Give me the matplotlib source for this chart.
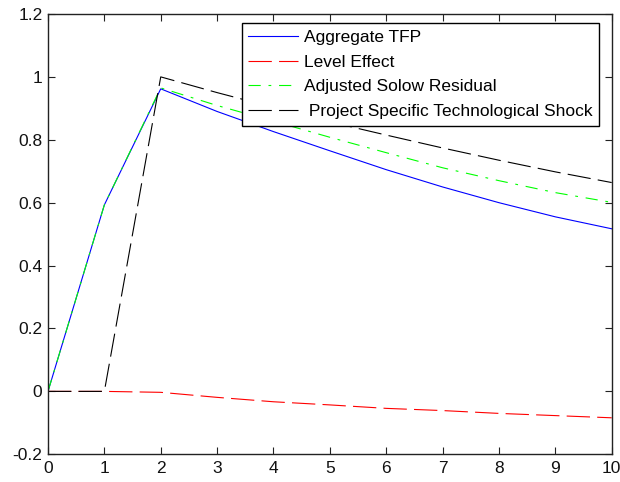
import matplotlib
matplotlib.use("Agg")
import matplotlib.pyplot as plt

# periods after the shock
periods = [0, 1, 2, 3, 4, 5, 6, 7, 8, 9, 10]

# values
aggregate_tfp = [0.0, 0.593, 0.962, 0.890, 0.826, 0.765, 0.705, 0.650, 0.600, 0.555, 0.517]
level_effect = [0.0, 0.0, -0.003, -0.019, -0.033, -0.043, -0.054, -0.061, -0.070, -0.077, -0.084]
solow_residual = [0.0, 0.593, 0.965, 0.909, 0.859, 0.808, 0.759, 0.711, 0.670, 0.632, 0.601]
project_shock = [0.0, 0.0, 1.0, 0.950, 0.903, 0.857, 0.815, 0.774, 0.735, 0.698, 0.664]

labels = ["Aggregate TFP", "Level Effect", "Adjusted Solow Residual",
          " Project Specific Technological Shock"]

plt.rcParams["font.family"] = ["Liberation Sans", "DejaVu Sans"]
plt.rcParams["font.size"] = 12.5

fig = plt.figure(figsize=(6.2, 4.82), dpi=100)
ax = fig.add_axes([0.0774, 0.0575, 0.9092, 0.9135])

lw = 0.8
ax.plot(periods, aggregate_tfp, color="#0000ff", lw=lw, label=labels[0])
ax.plot(periods, level_effect, color="#ff0000", lw=lw, dashes=(21, 6.5), label=labels[1])
ax.plot(periods, solow_residual, color="#00ff00", lw=lw, dashes=(11, 7, 2.5, 7), label=labels[2])
ax.plot(periods, project_shock, color="black", lw=lw, dashes=(21, 6.5), label=labels[3])

ax.set_xlim(0, 10)
ax.set_ylim(-0.2, 1.2)
ax.set_xticks(range(0, 11))
ax.set_yticks([-0.2, 0, 0.2, 0.4, 0.6, 0.8, 1, 1.2])
ax.set_yticklabels(["-0.2", "0", "0.2", "0.4", "0.6", "0.8", "1", "1.2"])
ax.tick_params(direction="in", length=5, width=0.8, top=True, right=True,
               colors="#222222", labelcolor="#111111")
ax.tick_params(axis="x", pad=5)
ax.tick_params(axis="y", pad=4)
for sp in ax.spines.values():
    sp.set_color("#222222")
    sp.set_linewidth(1.0)

leg = ax.legend(loc="upper right", bbox_to_anchor=(0.966, 0.952),
                bbox_transform=fig.transFigure, borderaxespad=0,
                fancybox=False, edgecolor="black", framealpha=1,
                handlelength=2.9, handletextpad=0.3, labelspacing=0.55,
                borderpad=0.38, fontsize=12.5)
leg.get_frame().set_linewidth(1.0)

fig.savefig("out.png", dpi=100)
